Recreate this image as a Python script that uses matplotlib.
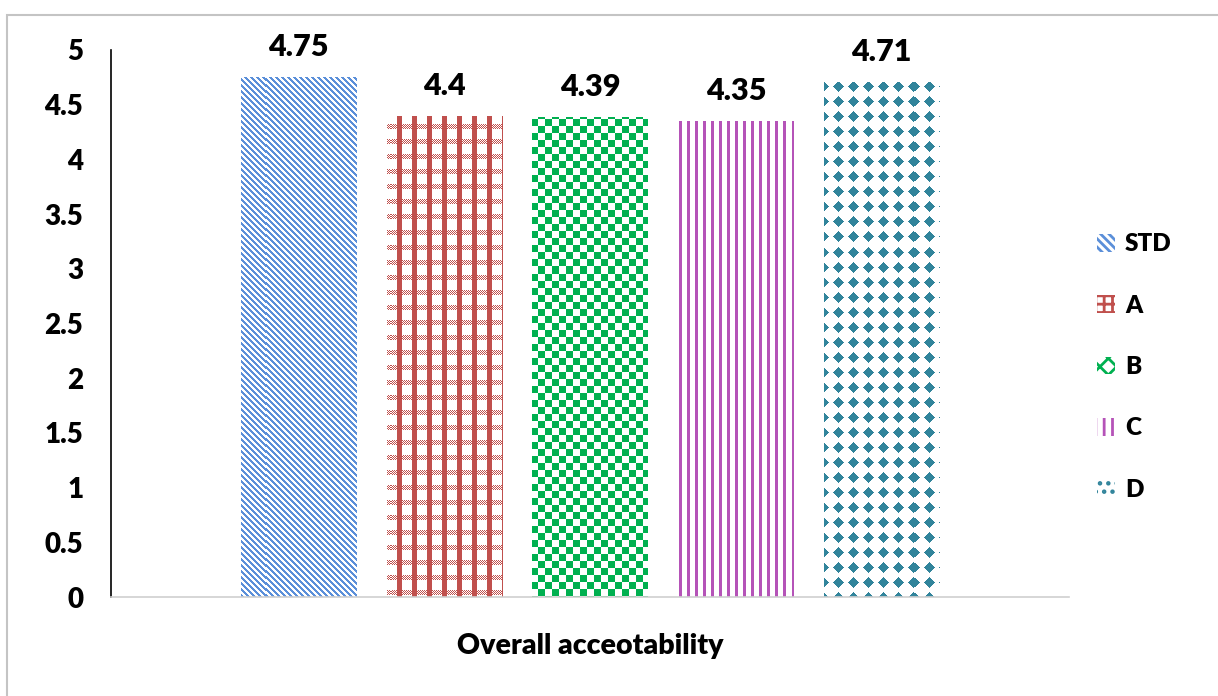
import numpy as np
import matplotlib.pyplot as plt
from matplotlib.colors import to_rgba
from matplotlib.patches import Patch, Rectangle

categories = ['STD', 'A', 'B', 'C', 'D']
values = [4.75, 4.4, 4.39, 4.35, 4.71]
colors = ['#5B8FD9', '#C0504D', '#00B050', '#B553B8', '#31849B']
patterns = ['diag', 'plaid', 'checker', 'vert', 'diamond']
legend_hatches = ['\\\\\\\\', '++', 'xx', '||', '..']
yticks = [0, 0.5, 1, 1.5, 2, 2.5, 3, 3.5, 4, 4.5, 5]
ytick_labels = ['0', '0.5', '1', '1.5', '2', '2.5', '3', '3.5', '4', '4.5', '5']
xlabel = 'Overall acceotability'

plt.rcParams['font.family'] = ['Lato', 'DejaVu Sans']
plt.rcParams['hatch.linewidth'] = 2.0
FW = 'heavy'


def pattern_mask(name, h, w):
    # pixel patterns like the Excel pattern fills
    i, j = np.mgrid[0:h, 0:w]
    if name == 'diag':
        return ((i - j) % 6) < 3
    if name == 'plaid':
        return (j % 15 < 5) | ((i % 15 < 5) & ((i + j) % 2 == 0))
    if name == 'checker':
        return ((i // 7 + j // 7) % 2) == 0
    if name == 'vert':
        return (j % 8) < 3
    di = np.abs((i % 15) - 7)
    dj = np.abs((j % 15) - 7)
    return (di + dj) <= 5


W, H = 1218, 696
fig = plt.figure(figsize=(W / 100, H / 100), dpi=100)
ax_left, ax_right, ax_top, ax_bottom = 111, 1069, 50, 597
ax = fig.add_axes([ax_left / W, 1 - ax_bottom / H, (ax_right - ax_left) / W, (ax_bottom - ax_top) / H])

x = np.arange(len(categories))
xlim = (-1.284, 5.284)
ylim = (0, 5)
bars = ax.bar(x, values, width=0.79, color='none', edgecolor='none', zorder=2)

pw, ph = ax_right - ax_left, ax_bottom - ax_top
for bar, col, pat in zip(bars, colors, patterns):
    mask = pattern_mask(pat, ph, pw)
    img = np.ones((ph, pw, 4))
    img[mask] = to_rgba(col)
    im = ax.imshow(img, extent=(xlim[0], xlim[1], ylim[0], ylim[1]), origin='upper',
                   interpolation='nearest', aspect='auto', zorder=2)
    im.set_clip_path(bar)

for xi, v in zip(x, values):
    ax.annotate(f'{v:g}', (xi, v), xytext=(0, 21), textcoords='offset pixels',
                ha='center', va='baseline', fontsize=22, fontweight=FW)

ax.set_xlim(*xlim)
ax.set_ylim(*ylim)
ax.set_yticks(yticks)
ax.set_yticklabels(ytick_labels, fontsize=20, fontweight=FW)
ax.set_xticks([])
ax.tick_params(axis='y', length=0, pad=20)
for s in ['top', 'right']:
    ax.spines[s].set_visible(False)
ax.spines['left'].set_color('black')
ax.spines['left'].set_linewidth(1.2)
ax.spines['bottom'].set_color('#D0D0D0')
ax.spines['bottom'].set_linewidth(1.2)
ax.set_xlabel(xlabel, fontsize=20.5, fontweight=FW, labelpad=26)

handles = [Patch(facecolor='white', edgecolor=c, hatch=h, linewidth=0, label=cat)
           for c, h, cat in zip(colors, legend_hatches, categories)]
leg = fig.legend(handles=handles, loc='center left', bbox_to_anchor=(1085 / W, 1 - 367 / H),
                 frameon=False, handlelength=0.75, handleheight=0.75,
                 handletextpad=0.4, labelspacing=1.62, borderpad=0,
                 prop={'size': 17.5, 'weight': FW})

fig.patches.append(Rectangle((7 / W, -0.05), 1.1, 1 - 15 / H + 0.05, transform=fig.transFigure,
                             fill=False, edgecolor='#C4C4C4', linewidth=1.5))

fig.savefig('out.png', dpi=100)
